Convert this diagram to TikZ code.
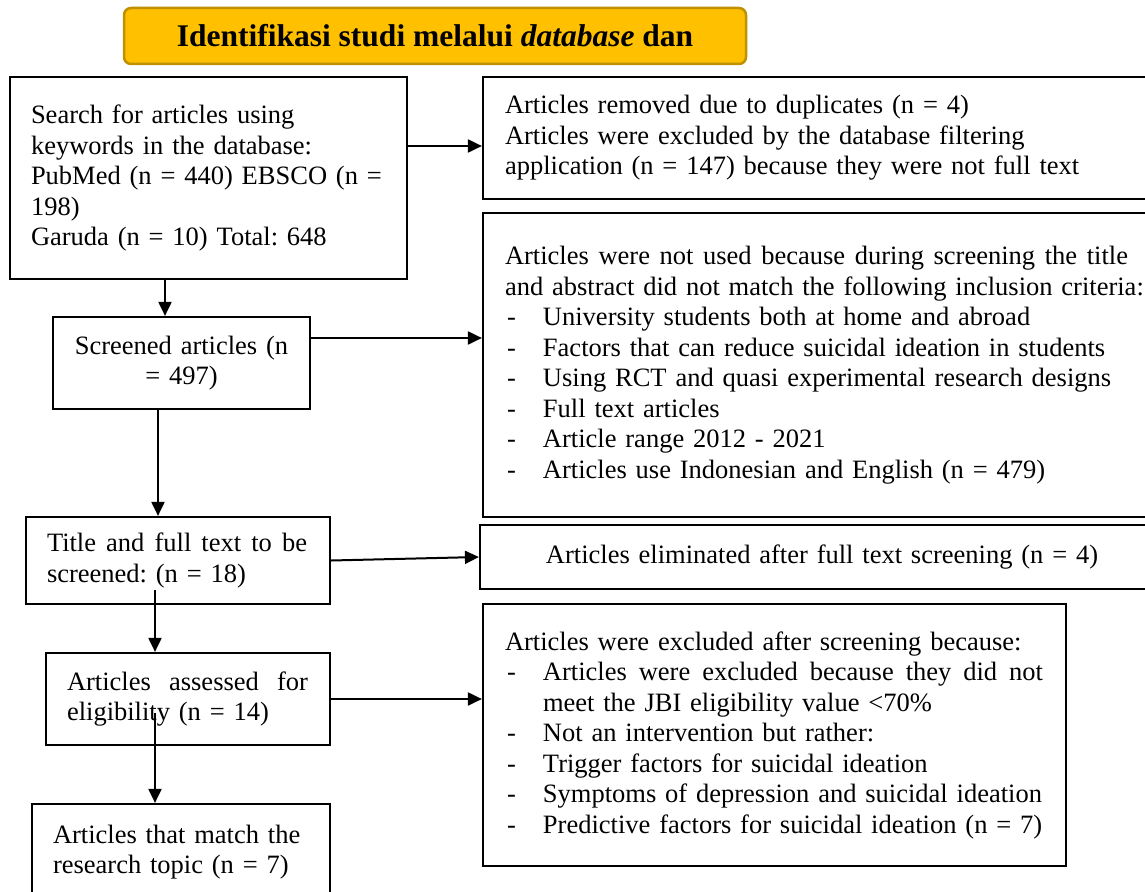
\documentclass[tikz,border=0pt]{standalone}
\usepackage{fontspec}
\setmainfont{Liberation Serif}
\usetikzlibrary{arrows.meta,calc}
\definecolor{titlefill}{HTML}{FFC000}
\definecolor{titleedge}{HTML}{BF9000}
\newcommand{\dashitem}{\makebox[38pt][l]{\hspace{2pt}-}}
\newcommand{\fullline}[2]{\leavevmode\hbox to #1{#2}}
\frenchspacing
\hyphenpenalty=10000
\exhyphenpenalty=10000
\begin{document}
\begin{tikzpicture}[x=1pt,y=-1pt,
  every node/.style={font=\fontsize{26.5}{30.5}\selectfont},
  box/.style={draw, line width=2.2pt, rectangle, inner ysep=0pt},
  arr/.style={line width=2pt, -{Triangle[length=14pt,width=13pt]}}]
\useasboundingbox (0,0) rectangle (1145,891);

% title
\node[draw=titleedge, fill=titlefill, line width=2.5pt, rounded corners=7pt,
      minimum width=622pt, minimum height=56pt,
      font=\fontsize{31.5}{36}\selectfont\bfseries] (title) at (435,36)
      {Identifikasi studi melalui \textit{database} dan};

% left column
\node[box, minimum width=397pt, minimum height=202pt, text width=355pt, inner xsep=21pt, align=left] (b1) at (208.5,178)
  {Search for articles using\\keywords in the database:\\PubMed (n = 440) EBSCO (n =\\198)\\Garuda (n = 10) Total: 648};
\node[box, minimum width=257pt, minimum height=92pt, text width=220pt, inner xsep=18.5pt, align=center] (b2) at (181.5,363)
  {Screened articles (n\\= 497)};
\node[box, minimum width=304pt, minimum height=87pt, text width=262pt, inner xsep=21pt, align=left] (b3) at (178,560.5)
  {\fullline{260pt}{Title\hfill and\hfill full\hfill text\hfill to\hfill be}\\screened: (n = 18)};
\node[box, minimum width=284pt, minimum height=92pt, text width=242pt, inner xsep=21pt, align=left] (b4) at (188,699)
  {\fullline{241pt}{Articles\hfill assessed\hfill for}\\eligibility (n = 14)};
\node[box, minimum width=298pt, minimum height=96pt, text width=256pt, inner xsep=21pt, align=left] (b5) at (181,852)
  {Articles that match the\\research topic (n = 7)};

% right column
\node[box, minimum width=677pt, minimum height=122pt, text width=633pt, inner xsep=22pt, align=left] (r1) at (821.5,138)
  {Articles removed due to duplicates (n = 4)\\Articles were excluded by the database filtering\\application (n = 147) because they were not full text};
\node[box, minimum width=677pt, minimum height=304pt, text width=633pt, inner xsep=22pt, align=left] (r2) at (821.5,365)
  {\fullline{623pt}{Articles\hfill were\hfill not\hfill used\hfill because\hfill during\hfill screening\hfill the\hfill title}\\
   \fullline{633pt}{and abstract did not match the following inclusion criteria:\hfil}\\
   \dashitem University students both at home and abroad\\
   \dashitem Factors that can reduce suicidal ideation in students\\
   \dashitem Using RCT and quasi experimental research designs\\
   \dashitem Full text articles\\
   \dashitem Article range 2012 - 2021\\
   \dashitem Articles use Indonesian and English (n = 479)};
\node[box, minimum width=684pt, minimum height=64pt, text width=640pt, inner xsep=22pt, align=center] (r3) at (822,557)
  {Articles eliminated after full text screening (n = 4)};
\node[box, minimum width=583pt, minimum height=262pt, text width=539pt, inner xsep=22pt, align=left] (r4) at (774.5,735)
  {Articles were excluded after screening because:\\
   \dashitem\fullline{500pt}{Articles\hfill were\hfill excluded\hfill because\hfill they\hfill did\hfill not}\\
   \hspace*{38pt}meet the JBI eligibility value <70\%\\
   \dashitem Not an intervention but rather:\\
   \dashitem Trigger factors for suicidal ideation\\
   \dashitem Symptoms of depression and suicidal ideation\\
   \dashitem Predictive factors for suicidal ideation (n = 7)};

% connectors
\draw[arr] ([yshift=32pt]b1.east) -- ([yshift=32pt]b1.east -| r1.west);
\draw[arr] ([xshift=-43.5pt]b1.south) -- ([xshift=-43.5pt]b1.south |- b2.north);
\draw[arr] ([yshift=25pt]b2.east) -- ([yshift=25pt]b2.east -| r2.west);
\draw[arr] ([xshift=-23.5pt]b2.south) -- ([xshift=-23.5pt]b2.south |- b3.north);
\draw[arr] (b3.east) -- (r3.west);
\draw[arr] ([xshift=-23pt,yshift=-29.5pt]b3.center) -- ([xshift=-23pt]b3.center |- b4.north);
\draw[arr] (b4.east) -- (b4.east -| r4.west);
\draw[arr] ([xshift=-33pt,yshift=-14pt]b4.center) -- ([xshift=-33pt]b4.center |- b5.north);
\end{tikzpicture}
\end{document}
